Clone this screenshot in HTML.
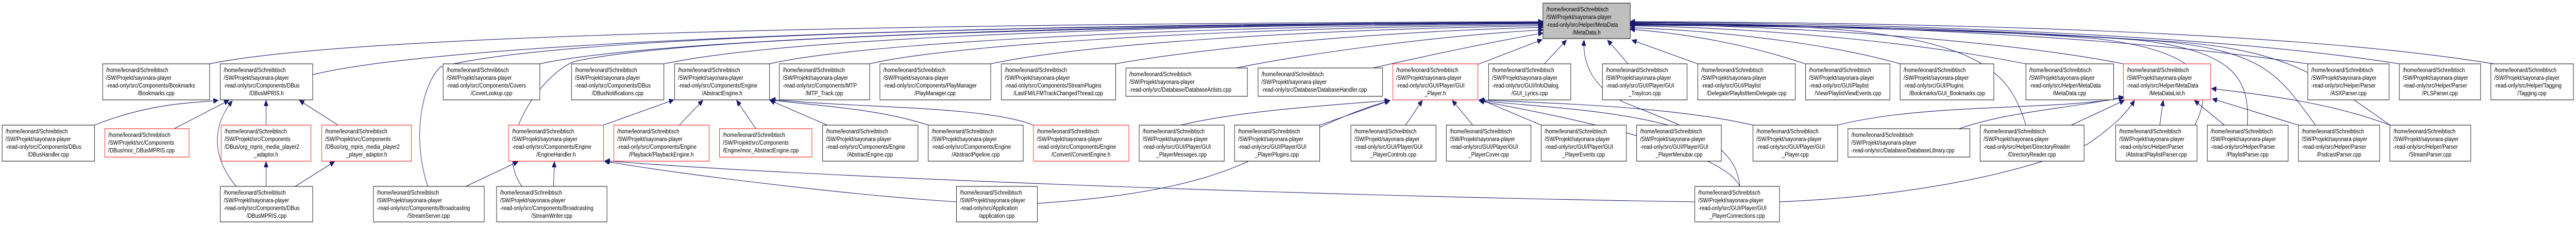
<!DOCTYPE html>
<html><head><meta charset="utf-8"><style>
html,body{margin:0;padding:0;background:#fff;width:100%;height:100%;overflow:hidden}
svg{display:block;width:100vw;height:100vh}
text{font-family:"Liberation Sans",Arial,sans-serif;font-size:12px;fill:#000}
.b{fill:#fff;stroke:#000;stroke-width:1}
.r{fill:#fff;stroke:#ff0000;stroke-width:1}
.e{fill:none;stroke:#191970;stroke-width:1.1;marker-end:url(#a)}
</style></head><body>
<svg viewBox="0 0 6022 437" preserveAspectRatio="none" xmlns="http://www.w3.org/2000/svg">
<defs><marker id="a" markerWidth="12" markerHeight="10" refX="11" refY="5" orient="auto" markerUnits="userSpaceOnUse"><path d="M0,0 L11,5 L0,10 z" fill="#191970" stroke="#191970"/></marker></defs>

<path class="e" d="M490,124 C800,70 2000,46 3607,42"/>
<path class="e" d="M731,145 C1000,90 2000,48 3607,43"/>
<path class="e" d="M1262,124 C1500,80 2400,48 3607,44"/>
<path class="e" d="M1552,124 C1800,80 2500,50 3607,45"/>
<path class="e" d="M1799,124 C2000,85 2700,52 3607,46"/>
<path class="e" d="M2033,124 C2200,90 2800,55 3607,48"/>
<path class="e" d="M2316,124 C2500,90 3000,58 3607,50"/>
<path class="e" d="M2608,124 C2800,95 3200,62 3607,53"/>
<path class="e" d="M2890,132 C3050,105 3350,70 3607,58"/>
<path class="e" d="M3210,132 C3350,105 3500,80 3607,64"/>
<path class="e" d="M3455,125 L3605,77"/>
<path class="e" d="M3610,124 L3662,78"/>
<path class="e" d="M1000,362 C960,260 990,160 1030,130 C1300,70 2400,48 3607,44"/>
<path class="e" d="M1220,362 C1150,280 1260,150 1340,120 C1600,70 2600,50 3607,45"/>
<path class="e" d="M3806,124 L3758,78"/>
<path class="e" d="M3969,124 L3815,78"/>
<path class="e" d="M4220,124 C4100,90 3950,65 3811,57"/>
<path class="e" d="M4442,124 C4300,90 4050,60 3811,54"/>
<path class="e" d="M4736,124 C4500,85 4150,55 3811,50"/>
<path class="e" d="M4964,124 C4700,80 4200,50 3811,47"/>
<path class="e" d="M5395,124 C5000,75 4400,48 3811,44"/>
<path class="e" d="M5609,124 C5200,70 4500,46 3811,43"/>
<path class="e" d="M5830,124 C5400,65 4600,44 3811,42"/>
<path class="e" d="M4736,243 C4700,150 4650,70 4200,52 L3811,45"/>
<path class="e" d="M5131,243 C5180,160 5150,100 4900,75 C4500,50 4100,48 3811,46"/>
<path class="e" d="M5254,243 C5260,150 5220,100 5000,78 C4600,52 4100,48 3811,47"/>
<path class="e" d="M5413,243 C5330,150 5300,100 5050,80 C4600,52 4100,48 3811,48"/>
<path class="e" d="M5587,243 C5430,150 5350,100 5100,82 C4600,55 4100,50 3811,49"/>
<path class="e" d="M4067,362 C4060,280 3950,250 3800,200 C3720,170 3700,120 3703,78"/>

<path class="e" d="M221,243 C350,200 450,200 510,195"/>
<path class="e" d="M407,250 L535,195"/>
<path class="e" d="M622,243 L622,195"/>
<path class="e" d="M790,243 L700,195"/>
<path class="e" d="M552,362 C490,300 500,240 543,196"/>
<path class="e" d="M622,362 L622,314"/>
<path class="e" d="M690,362 L782,314"/>
<path class="e" d="M1411,243 L1575,194"/>
<path class="e" d="M1588,243 L1643,195"/>
<path class="e" d="M1767,250 L1722,195"/>
<path class="e" d="M1934,243 L1800,195"/>
<path class="e" d="M2170,243 C2050,210 1900,205 1800,194"/>
<path class="e" d="M2416,243 C2300,205 2000,210 1802,193"/>
<path class="e" d="M1089,362 L1211,314"/>
<path class="e" d="M1294,362 L1296,314"/>
<path class="e" d="M2236,392 C2000,380 1600,340 1413,313"/>
<path class="e" d="M3962,392 C3000,380 1800,340 1415,312"/>
<path class="e" d="M2760,243 C2900,215 3100,205 3248,195"/>
<path class="e" d="M3085,243 L3250,195"/>
<path class="e" d="M2425,395 C2700,380 2850,345 2950,300 C3100,240 3180,210 3248,196"/>
<path class="e" d="M3286,243 L3325,195"/>
<path class="e" d="M3443,243 L3395,195"/>
<path class="e" d="M3603,243 L3460,193"/>
<path class="e" d="M3900,243 C3750,210 3550,205 3458,195"/>
<path class="e" d="M4098,243 C3900,205 3600,200 3458,194"/>
<path class="e" d="M4067,362 C4050,330 3950,270 3458,196"/>
<path class="e" d="M4842,243 L4966,195"/>
<path class="e" d="M4296,243 C4500,200 4800,215 4964,190"/>
<path class="e" d="M4580,250 C4700,215 4850,210 4964,188"/>
<path class="e" d="M4160,392 C4500,380 4750,330 4880,280 C4950,240 4975,215 4990,195"/>
<path class="e" d="M5049,243 L5057,195"/>
<path class="e" d="M5200,243 L5130,195"/>
<path class="e" d="M5373,243 L5172,192"/>
<path class="e" d="M5587,243 C5450,200 5300,185 5170,172"/>

<rect x="3607" y="6" width="204" height="69" fill="#bfbfbf" stroke="#000"/>
<text x="3615" y="22">/home/leonard/Schreibtisch</text><text x="3615" y="37">/SW/Projekt/sayonara-player</text><text x="3615" y="52">-read-only/src/Helper/MetaData</text><text x="3709" y="67" text-anchor="middle">/MetaData.h</text>

<rect class="b" x="240" y="124" width="250" height="70"/><text x="248" y="140">/home/leonard/Schreibtisch</text><text x="248" y="155">/SW/Projekt/sayonara-player</text><text x="248" y="170">-read-only/src/Components/Bookmarks</text><text x="365" y="185" text-anchor="middle">/Bookmarks.cpp</text>
<rect class="b" x="515" y="124" width="216" height="70"/><text x="523" y="140">/home/leonard/Schreibtisch</text><text x="523" y="155">/SW/Projekt/sayonara-player</text><text x="523" y="170">-read-only/src/Components/DBus</text><text x="623" y="185" text-anchor="middle">/DBusMPRIS.h</text>
<rect class="b" x="1036" y="124" width="226" height="70"/><text x="1044" y="140">/home/leonard/Schreibtisch</text><text x="1044" y="155">/SW/Projekt/sayonara-player</text><text x="1044" y="170">-read-only/src/Components/Covers</text><text x="1149" y="185" text-anchor="middle">/CoverLookup.cpp</text>
<rect class="b" x="1336" y="124" width="216" height="70"/><text x="1344" y="140">/home/leonard/Schreibtisch</text><text x="1344" y="155">/SW/Projekt/sayonara-player</text><text x="1344" y="170">-read-only/src/Components/DBus</text><text x="1444" y="185" text-anchor="middle">/DBusNotifications.cpp</text>
<rect class="b" x="1577" y="124" width="222" height="70"/><text x="1585" y="140">/home/leonard/Schreibtisch</text><text x="1585" y="155">/SW/Projekt/sayonara-player</text><text x="1585" y="170">-read-only/src/Components/Engine</text><text x="1688" y="185" text-anchor="middle">/AbstractEngine.h</text>
<rect class="b" x="1822" y="124" width="211" height="70"/><text x="1830" y="140">/home/leonard/Schreibtisch</text><text x="1830" y="155">/SW/Projekt/sayonara-player</text><text x="1830" y="170">-read-only/src/Components/MTP</text><text x="1927" y="185" text-anchor="middle">/MTP_Track.cpp</text>
<rect class="b" x="2057" y="124" width="259" height="70"/><text x="2065" y="140">/home/leonard/Schreibtisch</text><text x="2065" y="155">/SW/Projekt/sayonara-player</text><text x="2065" y="170">-read-only/src/Components/PlayManager</text><text x="2186" y="185" text-anchor="middle">/PlayManager.cpp</text>
<rect class="b" x="2341" y="124" width="267" height="70"/><text x="2349" y="140">/home/leonard/Schreibtisch</text><text x="2349" y="155">/SW/Projekt/sayonara-player</text><text x="2349" y="170">-read-only/src/Components/StreamPlugins</text><text x="2474" y="185" text-anchor="middle">/LastFM/LFMTrackChangedThread.cpp</text>
<rect class="b" x="2632" y="132" width="284" height="55"/><text x="2640" y="148">/home/leonard/Schreibtisch</text><text x="2640" y="163">/SW/Projekt/sayonara-player</text><text x="2640" y="178">-read-only/src/Database/DatabaseArtists.cpp</text>
<rect class="b" x="2941" y="132" width="291" height="55"/><text x="2949" y="148">/home/leonard/Schreibtisch</text><text x="2949" y="163">/SW/Projekt/sayonara-player</text><text x="2949" y="178">-read-only/src/Database/DatabaseHandler.cpp</text>
<rect class="r" x="3256" y="124" width="199" height="70"/><text x="3264" y="140">/home/leonard/Schreibtisch</text><text x="3264" y="155">/SW/Projekt/sayonara-player</text><text x="3264" y="170">-read-only/src/GUI/Player/GUI</text><text x="3355" y="185" text-anchor="middle">_Player.h</text>
<rect class="b" x="3480" y="124" width="192" height="70"/><text x="3488" y="140">/home/leonard/Schreibtisch</text><text x="3488" y="155">/SW/Projekt/sayonara-player</text><text x="3488" y="170">-read-only/src/GUI/InfoDialog</text><text x="3576" y="185" text-anchor="middle">/GUI_Lyrics.cpp</text>
<rect class="b" x="3746" y="124" width="198" height="70"/><text x="3754" y="140">/home/leonard/Schreibtisch</text><text x="3754" y="155">/SW/Projekt/sayonara-player</text><text x="3754" y="170">-read-only/src/GUI/Player/GUI</text><text x="3845" y="185" text-anchor="middle">_TrayIcon.cpp</text>
<rect class="b" x="3969" y="124" width="228" height="70"/><text x="3977" y="140">/home/leonard/Schreibtisch</text><text x="3977" y="155">/SW/Projekt/sayonara-player</text><text x="3977" y="170">-read-only/src/GUI/Playlist</text><text x="4083" y="185" text-anchor="middle">/Delegate/PlaylistItemDelegate.cpp</text>
<rect class="b" x="4221" y="124" width="197" height="70"/><text x="4229" y="140">/home/leonard/Schreibtisch</text><text x="4229" y="155">/SW/Projekt/sayonara-player</text><text x="4229" y="170">-read-only/src/GUI/Playlist</text><text x="4320" y="185" text-anchor="middle">/View/PlaylistViewEvents.cpp</text>
<rect class="b" x="4442" y="124" width="219" height="70"/><text x="4450" y="140">/home/leonard/Schreibtisch</text><text x="4450" y="155">/SW/Projekt/sayonara-player</text><text x="4450" y="170">-read-only/src/GUI/Plugins</text><text x="4552" y="185" text-anchor="middle">/Bookmarks/GUI_Bookmarks.cpp</text>
<rect class="b" x="4736" y="124" width="205" height="70"/><text x="4744" y="140">/home/leonard/Schreibtisch</text><text x="4744" y="155">/SW/Projekt/sayonara-player</text><text x="4744" y="170">-read-only/src/Helper/MetaData</text><text x="4838" y="185" text-anchor="middle">/MetaData.cpp</text>
<rect class="r" x="4964" y="124" width="204" height="70"/><text x="4972" y="140">/home/leonard/Schreibtisch</text><text x="4972" y="155">/SW/Projekt/sayonara-player</text><text x="4972" y="170">-read-only/src/Helper/MetaData</text><text x="5066" y="185" text-anchor="middle">/MetaDataList.h</text>
<rect class="b" x="5395" y="124" width="190" height="70"/><text x="5403" y="140">/home/leonard/Schreibtisch</text><text x="5403" y="155">/SW/Projekt/sayonara-player</text><text x="5403" y="170">-read-only/src/Helper/Parser</text><text x="5490" y="185" text-anchor="middle">/ASXParser.cpp</text>
<rect class="b" x="5609" y="124" width="190" height="70"/><text x="5617" y="140">/home/leonard/Schreibtisch</text><text x="5617" y="155">/SW/Projekt/sayonara-player</text><text x="5617" y="170">-read-only/src/Helper/Parser</text><text x="5704" y="185" text-anchor="middle">/PLSParser.cpp</text>
<rect class="b" x="5823" y="124" width="193" height="70"/><text x="5831" y="140">/home/leonard/Schreibtisch</text><text x="5831" y="155">/SW/Projekt/sayonara-player</text><text x="5831" y="170">-read-only/src/Helper/Tagging</text><text x="5919" y="185" text-anchor="middle">/Tagging.cpp</text>

<rect class="b" x="5" y="243" width="216" height="70"/><text x="13" y="259">/home/leonard/Schreibtisch</text><text x="13" y="274">/SW/Projekt/sayonara-player</text><text x="13" y="289">-read-only/src/Components/DBus</text><text x="113" y="304" text-anchor="middle">/DBusHandler.cpp</text>
<rect class="r" x="245" y="250" width="197" height="55"/><text x="253" y="266">/home/leonard/Schreibtisch</text><text x="253" y="281">/SW/Projekt/src/Components</text><text x="253" y="296">/DBus/moc_DBusMPRIS.cpp</text>
<rect class="r" x="517" y="243" width="210" height="70"/><text x="525" y="259">/home/leonard/Schreibtisch</text><text x="525" y="274">/SW/Projekt/src/Components</text><text x="525" y="289">/DBus/org_mpris_media_player2</text><text x="622" y="304" text-anchor="middle">_adaptor.h</text>
<rect class="r" x="752" y="243" width="210" height="70"/><text x="760" y="259">/home/leonard/Schreibtisch</text><text x="760" y="274">/SW/Projekt/src/Components</text><text x="760" y="289">/DBus/org_mpris_media_player2</text><text x="857" y="304" text-anchor="middle">_player_adaptor.h</text>
<rect class="r" x="1189" y="243" width="222" height="70"/><text x="1197" y="259">/home/leonard/Schreibtisch</text><text x="1197" y="274">/SW/Projekt/sayonara-player</text><text x="1197" y="289">-read-only/src/Components/Engine</text><text x="1300" y="304" text-anchor="middle">/EngineHandler.h</text>
<rect class="r" x="1435" y="243" width="223" height="70"/><text x="1443" y="259">/home/leonard/Schreibtisch</text><text x="1443" y="274">/SW/Projekt/sayonara-player</text><text x="1443" y="289">-read-only/src/Components/Engine</text><text x="1546" y="304" text-anchor="middle">/Playback/PlaybackEngine.h</text>
<rect class="r" x="1682" y="250" width="216" height="55"/><text x="1690" y="266">/home/leonard/Schreibtisch</text><text x="1690" y="281">/SW/Projekt/src/Components</text><text x="1690" y="296">/Engine/moc_AbstractEngine.cpp</text>
<rect class="b" x="1923" y="243" width="223" height="70"/><text x="1931" y="259">/home/leonard/Schreibtisch</text><text x="1931" y="274">/SW/Projekt/sayonara-player</text><text x="1931" y="289">-read-only/src/Components/Engine</text><text x="2034" y="304" text-anchor="middle">/AbstractEngine.cpp</text>
<rect class="b" x="2170" y="243" width="222" height="70"/><text x="2178" y="259">/home/leonard/Schreibtisch</text><text x="2178" y="274">/SW/Projekt/sayonara-player</text><text x="2178" y="289">-read-only/src/Components/Engine</text><text x="2281" y="304" text-anchor="middle">/AbstractPipeline.cpp</text>
<rect class="r" x="2416" y="243" width="223" height="70"/><text x="2424" y="259">/home/leonard/Schreibtisch</text><text x="2424" y="274">/SW/Projekt/sayonara-player</text><text x="2424" y="289">-read-only/src/Components/Engine</text><text x="2527" y="304" text-anchor="middle">/Convert/ConvertEngine.h</text>
<rect class="b" x="2663" y="243" width="199" height="70"/><text x="2671" y="259">/home/leonard/Schreibtisch</text><text x="2671" y="274">/SW/Projekt/sayonara-player</text><text x="2671" y="289">-read-only/src/GUI/Player/GUI</text><text x="2762" y="304" text-anchor="middle">_PlayerMessages.cpp</text>
<rect class="b" x="2886" y="243" width="199" height="70"/><text x="2894" y="259">/home/leonard/Schreibtisch</text><text x="2894" y="274">/SW/Projekt/sayonara-player</text><text x="2894" y="289">-read-only/src/GUI/Player/GUI</text><text x="2985" y="304" text-anchor="middle">_PlayerPlugins.cpp</text>
<rect class="b" x="3158" y="243" width="199" height="70"/><text x="3166" y="259">/home/leonard/Schreibtisch</text><text x="3166" y="274">/SW/Projekt/sayonara-player</text><text x="3166" y="289">-read-only/src/GUI/Player/GUI</text><text x="3257" y="304" text-anchor="middle">_PlayerControls.cpp</text>
<rect class="b" x="3381" y="243" width="198" height="70"/><text x="3389" y="259">/home/leonard/Schreibtisch</text><text x="3389" y="274">/SW/Projekt/sayonara-player</text><text x="3389" y="289">-read-only/src/GUI/Player/GUI</text><text x="3480" y="304" text-anchor="middle">_PlayerCover.cpp</text>
<rect class="b" x="3603" y="243" width="199" height="70"/><text x="3611" y="259">/home/leonard/Schreibtisch</text><text x="3611" y="274">/SW/Projekt/sayonara-player</text><text x="3611" y="289">-read-only/src/GUI/Player/GUI</text><text x="3702" y="304" text-anchor="middle">_PlayerEvents.cpp</text>
<rect class="b" x="3826" y="243" width="198" height="70"/><text x="3834" y="259">/home/leonard/Schreibtisch</text><text x="3834" y="274">/SW/Projekt/sayonara-player</text><text x="3834" y="289">-read-only/src/GUI/Player/GUI</text><text x="3925" y="304" text-anchor="middle">_PlayerMenubar.cpp</text>
<rect class="b" x="4098" y="243" width="198" height="70"/><text x="4106" y="259">/home/leonard/Schreibtisch</text><text x="4106" y="274">/SW/Projekt/sayonara-player</text><text x="4106" y="289">-read-only/src/GUI/Player/GUI</text><text x="4197" y="304" text-anchor="middle">_Player.cpp</text>
<rect class="b" x="4320" y="250" width="285" height="55"/><text x="4328" y="266">/home/leonard/Schreibtisch</text><text x="4328" y="281">/SW/Projekt/sayonara-player</text><text x="4328" y="296">-read-only/src/Database/DatabaseLibrary.cpp</text>
<rect class="b" x="4629" y="243" width="243" height="70"/><text x="4637" y="259">/home/leonard/Schreibtisch</text><text x="4637" y="274">/SW/Projekt/sayonara-player</text><text x="4637" y="289">-read-only/src/Helper/DirectoryReader</text><text x="4750" y="304" text-anchor="middle">/DirectoryReader.cpp</text>
<rect class="b" x="4946" y="243" width="190" height="70"/><text x="4954" y="259">/home/leonard/Schreibtisch</text><text x="4954" y="274">/SW/Projekt/sayonara-player</text><text x="4954" y="289">-read-only/src/Helper/Parser</text><text x="5041" y="304" text-anchor="middle">/AbstractPlaylistParser.cpp</text>
<rect class="b" x="5160" y="243" width="189" height="70"/><text x="5168" y="259">/home/leonard/Schreibtisch</text><text x="5168" y="274">/SW/Projekt/sayonara-player</text><text x="5168" y="289">-read-only/src/Helper/Parser</text><text x="5254" y="304" text-anchor="middle">/PlaylistParser.cpp</text>
<rect class="b" x="5373" y="243" width="190" height="70"/><text x="5381" y="259">/home/leonard/Schreibtisch</text><text x="5381" y="274">/SW/Projekt/sayonara-player</text><text x="5381" y="289">-read-only/src/Helper/Parser</text><text x="5468" y="304" text-anchor="middle">/PodcastParser.cpp</text>
<rect class="b" x="5587" y="243" width="189" height="70"/><text x="5595" y="259">/home/leonard/Schreibtisch</text><text x="5595" y="274">/SW/Projekt/sayonara-player</text><text x="5595" y="289">-read-only/src/Helper/Parser</text><text x="5681" y="304" text-anchor="middle">/StreamParser.cpp</text>

<rect class="b" x="515" y="362" width="216" height="69"/><text x="523" y="378">/home/leonard/Schreibtisch</text><text x="523" y="393">/SW/Projekt/sayonara-player</text><text x="523" y="408">-read-only/src/Components/DBus</text><text x="623" y="423" text-anchor="middle">/DBusMPRIS.cpp</text>
<rect class="b" x="873" y="362" width="259" height="69"/><text x="881" y="378">/home/leonard/Schreibtisch</text><text x="881" y="393">/SW/Projekt/sayonara-player</text><text x="881" y="408">-read-only/src/Components/Broadcasting</text><text x="1002" y="423" text-anchor="middle">/StreamServer.cpp</text>
<rect class="b" x="1161" y="362" width="258" height="69"/><text x="1169" y="378">/home/leonard/Schreibtisch</text><text x="1169" y="393">/SW/Projekt/sayonara-player</text><text x="1169" y="408">-read-only/src/Components/Broadcasting</text><text x="1290" y="423" text-anchor="middle">/StreamWriter.cpp</text>
<rect class="b" x="2236" y="362" width="189" height="69"/><text x="2244" y="378">/home/leonard/Schreibtisch</text><text x="2244" y="393">/SW/Projekt/sayonara-player</text><text x="2244" y="408">-read-only/src/Application</text><text x="2330" y="423" text-anchor="middle">/application.cpp</text>
<rect class="b" x="3962" y="362" width="198" height="69"/><text x="3970" y="378">/home/leonard/Schreibtisch</text><text x="3970" y="393">/SW/Projekt/sayonara-player</text><text x="3970" y="408">-read-only/src/GUI/Player/GUI</text><text x="4061" y="423" text-anchor="middle">_PlayerConnections.cpp</text>
</svg>
</body></html>
